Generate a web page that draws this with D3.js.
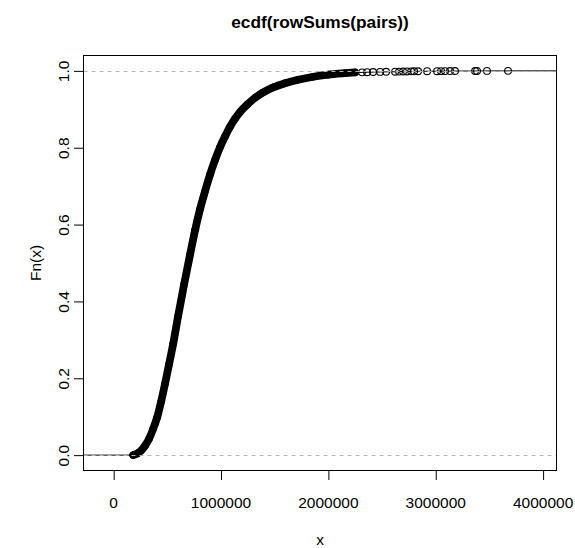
<!DOCTYPE html>
<html>
<head>
<meta charset="utf-8">
<script src="https://cdn.jsdelivr.net/npm/d3@7"></script>
<style>
  body { margin: 0; background: #fff; }
  svg { display: block; }
  text { font-family: "Liberation Sans", Arial, Helvetica, sans-serif; fill: #000; }
</style>
</head>
<body>
<script>
// Empirical CDF of rowSums(pairs).
// Dense body of the sample: knots (x) and the cumulative share (F) at each.
const bodyX = [186000, 223000, 261000, 298000, 335000, 372000, 410000, 447000, 484000,
               521000, 559000, 605000, 661000, 717000, 764000, 810000, 857000, 903000,
               950000, 996000, 1043000, 1089000, 1136000, 1182000, 1248000, 1322000,
               1397000, 1490000, 1601000, 1723000, 1853000, 2002000, 2160000, 2253000];
const bodyF = [0.000, 0.004, 0.012, 0.025, 0.043, 0.068, 0.099, 0.140, 0.187,
               0.237, 0.290, 0.362, 0.445, 0.523, 0.587, 0.641, 0.688, 0.731,
               0.769, 0.802, 0.830, 0.855, 0.876, 0.893, 0.912, 0.930,
               0.944, 0.957, 0.968, 0.977, 0.984, 0.990, 0.994, 0.996];

// Sparse upper tail: every observation is its own step.
const tailX = [2318000, 2365000, 2421000, 2486000, 2542000, 2626000, 2663000, 2700000,
               2737000, 2775000, 2803000, 2840000, 2924000, 3017000, 3054000, 3091000,
               3138000, 3184000, 3371000, 3389000, 3482000, 3678000];
const tailF = [0.9962, 0.9966, 0.9970, 0.9973, 0.9976, 0.9979, 0.9981, 0.9983,
               0.9985, 0.9987, 0.9989, 0.9990, 0.9991, 0.9992, 0.9993, 0.9994,
               0.9995, 0.9996, 0.9997, 0.9998, 0.9999, 1.0000];

const xTicks = [0, 1000000, 2000000, 3000000, 4000000];
const yTicks = [0, 0.2, 0.4, 0.6, 0.8, 1.0];
const yTickLabels = ["0.0", "0.2", "0.4", "0.6", "0.8", "1.0"];

const titleText = "ecdf(rowSums(pairs))";
const xLabel = "x";
const yLabel = "Fn(x)";

// axis limits (step range padded on both sides, then the usual 4% extension)
const xLimits = [-276500, 4129400];
const yLimits = [-0.04, 1.04];

const W = 575, H = 548;
const box = { left: 83.5, right: 556.5, top: 55.5, bottom: 470.5 };

const svg = d3.select("body").append("svg")
  .attr("width", W).attr("height", H)
  .attr("viewBox", `0 0 ${W} ${H}`);

svg.append("rect").attr("width", W).attr("height", H).attr("fill", "#fff");

const x = d3.scaleLinear().domain(xLimits).range([box.left, box.right]);
const y = d3.scaleLinear().domain(yLimits).range([box.bottom, box.top]);

svg.append("clipPath").attr("id", "plotArea")
  .append("rect")
  .attr("x", box.left).attr("y", box.top)
  .attr("width", box.right - box.left).attr("height", box.bottom - box.top);

const plot = svg.append("g").attr("clip-path", "url(#plotArea)");

// horizontal steps: from the left edge to the first knot, between tail knots,
// and from the last knot out to the right edge
const stepsX = [xLimits[0] - 1e6, ...bodyX.slice(-1), ...tailX, xLimits[1] + 1e6];
const stepsF = [0, ...bodyF.slice(-1), ...tailF];
const steps = [];
steps.push({ x1: stepsX[0], x2: bodyX[0], f: 0 });
for (let i = 1; i < stepsX.length - 1; i++) {
  steps.push({ x1: stepsX[i], x2: stepsX[i + 1], f: stepsF[i] });
}
plot.append("g").selectAll("line").data(steps).join("line")
  .attr("x1", d => x(d.x1)).attr("x2", d => x(d.x2))
  .attr("y1", d => y(d.f)).attr("y2", d => y(d.f))
  .attr("stroke", "#000").attr("stroke-width", 1);

// the dense body: thousands of overlapping open circles merge into a solid band
const body = bodyX.map((v, i) => [v, bodyF[i]]);
plot.append("path")
  .datum(body)
  .attr("d", d3.line().x(d => x(d[0])).y(d => y(d[1])).curve(d3.curveMonotoneX))
  .attr("fill", "none")
  .attr("stroke", "#000")
  .attr("stroke-width", 7.8)
  .attr("stroke-linecap", "round")
  .attr("stroke-linejoin", "round");

plot.append("g").selectAll("circle").data(body).join("circle")
  .attr("cx", d => x(d[0])).attr("cy", d => y(d[1])).attr("r", 3.4)
  .attr("fill", "none").attr("stroke", "#000").attr("stroke-width", 1);

// tail observations as open circles
const tail = tailX.map((v, i) => [v, tailF[i]]);
plot.append("g").selectAll("circle").data(tail).join("circle")
  .attr("cx", d => x(d[0])).attr("cy", d => y(d[1])).attr("r", 3.4)
  .attr("fill", "none").attr("stroke", "#000").attr("stroke-width", 1.1);

// reference lines at 0 and 1
plot.append("g").selectAll("line").data([0, 1]).join("line")
  .attr("x1", box.left).attr("x2", box.right)
  .attr("y1", d => Math.round(y(d)) + 0.5).attr("y2", d => Math.round(y(d)) + 0.5)
  .attr("stroke", "#b3b3b3").attr("stroke-width", 1)
  .attr("stroke-dasharray", "4,4");

// frame
svg.append("rect")
  .attr("x", box.left).attr("y", box.top)
  .attr("width", box.right - box.left).attr("height", box.bottom - box.top)
  .attr("fill", "none").attr("stroke", "#000").attr("stroke-width", 1);

// axes
const tickLen = 9.5;
const xAxis = svg.append("g")
  .attr("transform", `translate(0,${box.bottom})`)
  .call(d3.axisBottom(x).tickValues(xTicks).tickSize(tickLen).tickFormat(d3.format("d")));
xAxis.select(".domain").remove();
xAxis.selectAll(".tick line").attr("stroke", "#000").attr("transform", "translate(0.5,0)");
xAxis.selectAll(".tick text")
  .attr("y", 0).attr("dy", null)
  .attr("transform", "translate(0,37.8)")
  .attr("font-size", "15.5px")
  .style("font-family", '"Liberation Sans", Arial, sans-serif');

const yAxis = svg.append("g")
  .attr("transform", `translate(${box.left},0)`)
  .call(d3.axisLeft(y).tickValues(yTicks).tickSize(tickLen).tickFormat((d, i) => yTickLabels[i]));
yAxis.select(".domain").remove();
yAxis.selectAll(".tick line").attr("stroke", "#000");
yAxis.selectAll(".tick text")
  .attr("x", 0).attr("dy", null)
  .attr("transform", "translate(-15,0) rotate(-90)")
  .attr("text-anchor", "middle")
  .attr("font-size", "15.5px")
  .style("font-family", '"Liberation Sans", Arial, sans-serif');

// titles
svg.append("text")
  .attr("x", (box.left + box.right) / 2).attr("y", 28)
  .attr("text-anchor", "middle")
  .attr("font-size", "17.3px").attr("font-weight", "bold")
  .text(titleText);

svg.append("text")
  .attr("x", (box.left + box.right) / 2).attr("y", 545)
  .attr("text-anchor", "middle")
  .attr("font-size", "15.5px")
  .text(xLabel);

svg.append("text")
  .attr("transform", `translate(41,${(box.top + box.bottom) / 2}) rotate(-90)`)
  .attr("text-anchor", "middle")
  .attr("font-size", "15.5px")
  .text(yLabel);
</script>
</body>
</html>
